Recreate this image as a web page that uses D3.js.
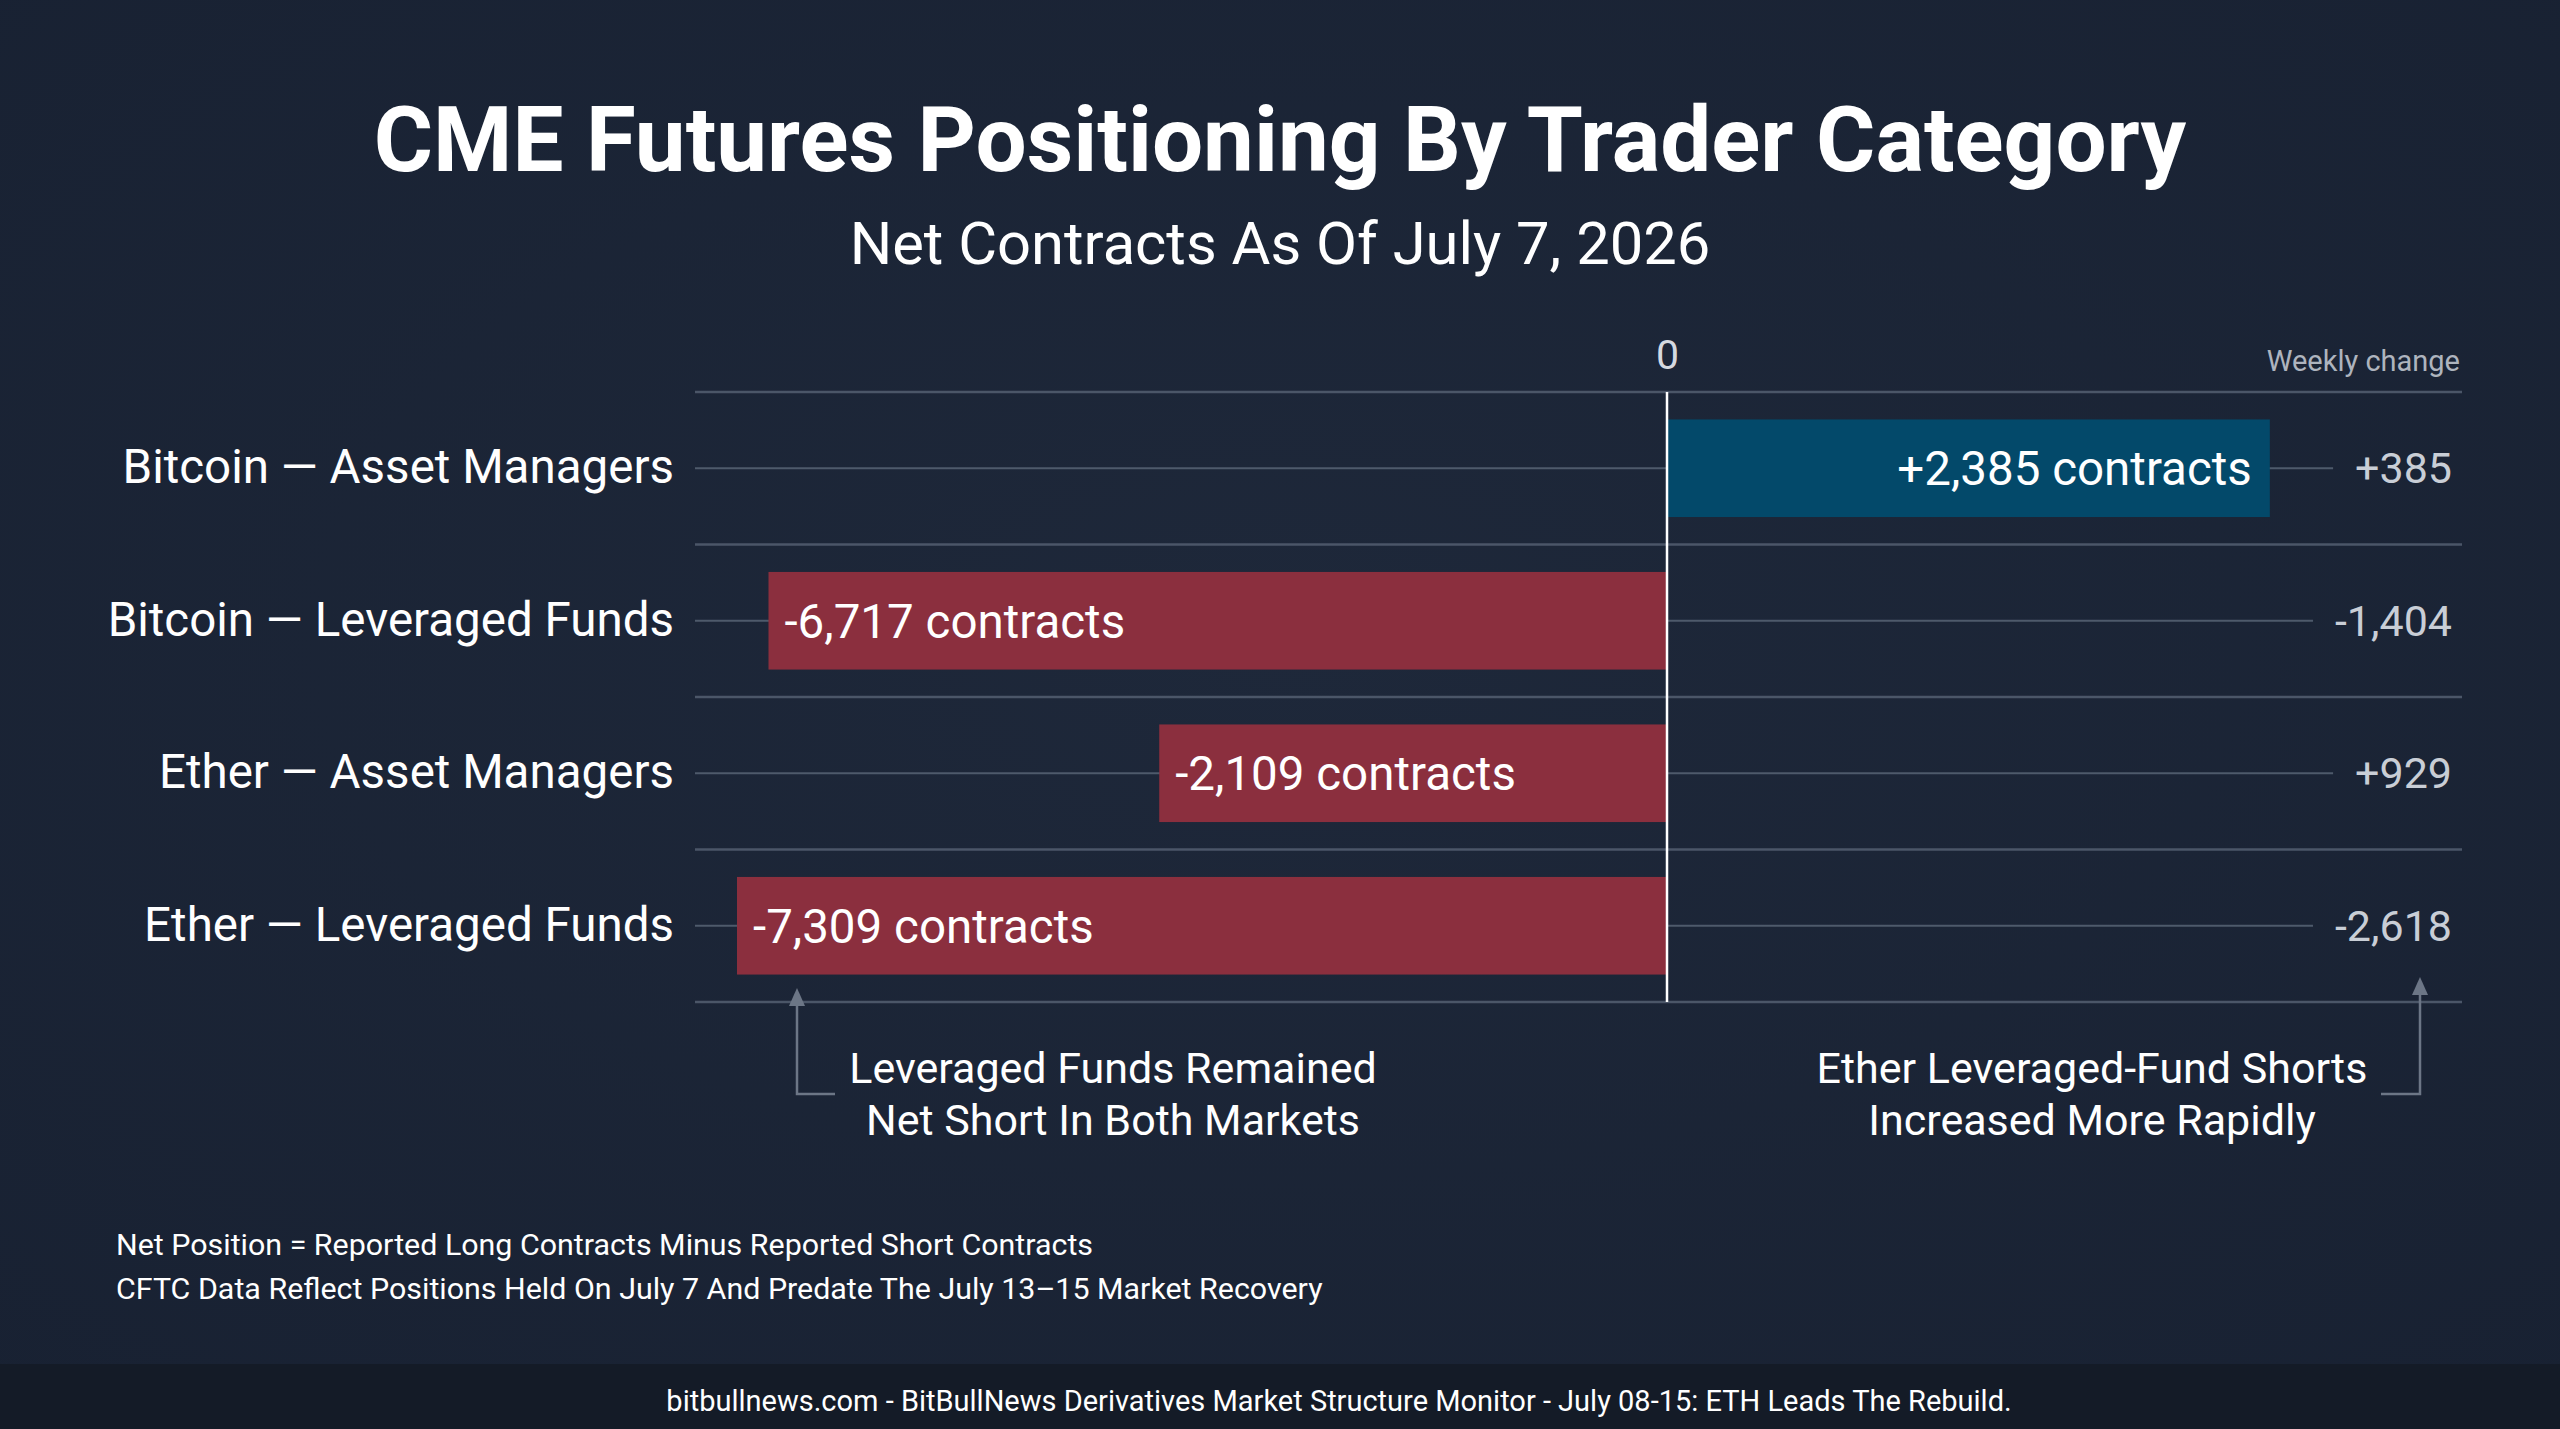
<!DOCTYPE html>
<html>
<head>
<meta charset="utf-8">
<script src="https://cdn.jsdelivr.net/npm/d3@7"></script>
<style>
  html, body { margin: 0; padding: 0; background: #1b2536; overflow: hidden; }
  svg { display: block; }
  text { font-family: Roboto, "Noto Sans", sans-serif; }
</style>
</head>
<body>
<svg id="chart" width="2560" height="1429"></svg>
<script>
// ---- Data ----
const categories = [
  "Bitcoin \u2014 Asset Managers",
  "Bitcoin \u2014 Leveraged Funds",
  "Ether \u2014 Asset Managers",
  "Ether \u2014 Leveraged Funds"
];
const netContracts = [2385, -6717, -2109, -7309];
const weeklyChange = [385, -1404, 929, -2618];
const zeroTick = [0];
const titleText = "CME Futures Positioning By Trader Category";
const subtitleText = "Net Contracts As Of July 7, 2026";
const weeklyHeader = "Weekly change";
const annotationLeft = ["Leveraged Funds Remained", "Net Short In Both Markets"];
const annotationRight = ["Ether Leveraged-Fund Shorts", "Increased More Rapidly"];
const footnotes = [
  "Net Position = Reported Long Contracts Minus Reported Short Contracts",
  "CFTC Data Reflect Positions Held On July 7 And Predate The July 13\u201315 Market Recovery"
];
const footerText = "bitbullnews.com - BitBullNews Derivatives Market Structure Monitor - July 08-15: ETH Leads The Rebuild.";

// ---- Layout ----
const W = 2560, H = 1429;
const plotLeft = 695, plotRight = 2462, zeroX = 1667;
const plotTop = 392, plotBottom = 1002;
const valueRight = 2452;

const svg = d3.select("#chart");
const defs = svg.append("defs");
const rg = defs.append("radialGradient").attr("id", "bg").attr("cx", "50%").attr("cy", "45%").attr("r", "75%");
rg.append("stop").attr("offset", "0%").attr("stop-color", "#1e283a");
rg.append("stop").attr("offset", "100%").attr("stop-color", "#182132");
svg.append("rect").attr("width", W).attr("height", H).attr("fill", "url(#bg)");
svg.append("rect").attr("x", 0).attr("y", 1364).attr("width", W).attr("height", H - 1364).attr("fill", "#141b27");

// Titles
svg.append("text").attr("x", W / 2).attr("y", 171).attr("text-anchor", "middle")
  .attr("font-size", 90.7).attr("font-weight", 700).attr("fill", "#ffffff").text(titleText);
svg.append("text").attr("x", W / 2).attr("y", 264).attr("text-anchor", "middle")
  .attr("font-size", 59.7).attr("fill", "#ffffff").text(subtitleText);

// Scales
const data = categories.map((c, i) => ({ cat: c, value: netContracts[i], change: weeklyChange[i] }));
const y = d3.scaleBand().domain(categories).range([plotTop, plotBottom]).paddingInner(0.36).paddingOuter(0.18);
const x = d3.scaleSymlog().constant(900).domain([-8000, 0, 4000]).range([703, zeroX, 2456]);

// Band separators
const step = y.step();
const seps = d3.range(categories.length + 1).map(i => plotTop + i * step);
svg.append("g").selectAll("line").data(seps).join("line")
  .attr("x1", plotLeft).attr("x2", plotRight).attr("y1", d => d).attr("y2", d => d)
  .attr("stroke", "#4b5668").attr("stroke-width", 2.5);

// Weekly change values (measure for row lines)
const fmtChange = v => (v > 0 ? "+" : v < 0 ? "-" : "") + d3.format(",")(Math.abs(v));
const valG = svg.append("g");
const vals = valG.selectAll("text").data(data).join("text")
  .attr("x", valueRight).attr("y", d => y(d.cat) + y.bandwidth() / 2 + 15)
  .attr("text-anchor", "end").attr("font-size", 43).attr("fill", "#c9ced6")
  .text(d => fmtChange(d.change));
const widths = [];
vals.each(function () { widths.push(this.getComputedTextLength()); });

// Row center lines
svg.append("g").selectAll("line").data(data).join("line")
  .attr("x1", plotLeft).attr("x2", (d, i) => valueRight - widths[i] - 22)
  .attr("y1", d => y(d.cat) + y.bandwidth() / 2).attr("y2", d => y(d.cat) + y.bandwidth() / 2)
  .attr("stroke", "#4e5a6b").attr("stroke-width", 2);

// Bars
svg.append("g").selectAll("rect").data(data).join("rect")
  .attr("x", d => Math.min(x(0), x(d.value)))
  .attr("width", d => Math.abs(x(d.value) - x(0)))
  .attr("y", d => y(d.cat)).attr("height", y.bandwidth())
  .attr("fill", d => d.value >= 0 ? "#03496a" : "#8b2f3e");

// Bar labels
svg.append("g").selectAll("text").data(data).join("text")
  .attr("x", d => d.value >= 0 ? x(d.value) - 18 : x(d.value) + 16)
  .attr("y", d => y(d.cat) + y.bandwidth() / 2 + 17)
  .attr("text-anchor", d => d.value >= 0 ? "end" : "start")
  .attr("font-size", 47.5).attr("fill", "#ffffff")
  .text(d => (d.value > 0 ? "+" : "-") + d3.format(",")(Math.abs(d.value)) + " contracts");

// Zero line
svg.append("line").attr("x1", x(0)).attr("x2", x(0)).attr("y1", plotTop).attr("y2", plotBottom)
  .attr("stroke", "#ffffff").attr("stroke-width", 2.5);

// Top axis with 0 tick
const xAxis = svg.append("g").attr("transform", `translate(0,${plotTop})`)
  .call(d3.axisTop(x).tickValues(zeroTick).tickSize(0).tickPadding(23).tickFormat(d3.format("d")));
xAxis.select(".domain").remove();
xAxis.selectAll("text").attr("font-size", 41).attr("fill", "#d5d9e0").attr("font-family", "Roboto");

// Left axis with category labels
const yAxis = svg.append("g").attr("transform", `translate(${plotLeft},0)`)
  .call(d3.axisLeft(y).tickSize(0).tickPadding(21));
yAxis.select(".domain").remove();
yAxis.selectAll("text").attr("font-size", 47.5).attr("fill", "#ffffff").attr("font-family", "Roboto");

// Weekly change header
svg.append("text").attr("x", 2460).attr("y", 371).attr("text-anchor", "end")
  .attr("font-size", 29).attr("fill", "#aeb4be").text(weeklyHeader);

// Annotations
const annColor = "#6c7686";
const ann = svg.append("g");
function arrowUp(xp, tipY) {
  ann.append("path").attr("d", `M${xp},${tipY} L${xp - 8},${tipY + 18} L${xp + 8},${tipY + 18} Z`).attr("fill", annColor);
}
ann.append("path").attr("d", "M835,1094 L797,1094 L797,1000").attr("fill", "none").attr("stroke", annColor).attr("stroke-width", 2.5);
arrowUp(797, 988);
ann.append("path").attr("d", "M2381,1094 L2420,1094 L2420,990").attr("fill", "none").attr("stroke", annColor).attr("stroke-width", 2.5);
arrowUp(2420, 977);

svg.append("g").selectAll("text").data(annotationLeft).join("text")
  .attr("x", 1113).attr("y", (d, i) => 1083 + i * 52).attr("text-anchor", "middle")
  .attr("font-size", 43).attr("fill", "#ffffff").text(d => d);
svg.append("g").selectAll("text").data(annotationRight).join("text")
  .attr("x", 2092).attr("y", (d, i) => 1083 + i * 52).attr("text-anchor", "middle")
  .attr("font-size", 43).attr("fill", "#ffffff").text(d => d);

// Footnotes
svg.append("g").selectAll("text").data(footnotes).join("text")
  .attr("x", 116).attr("y", (d, i) => 1255 + i * 44)
  .attr("font-size", 30.4).attr("fill", "#ffffff").text(d => d);

// Footer
svg.append("text").attr("x", 1339).attr("y", 1411).attr("text-anchor", "middle")
  .attr("font-size", 29).attr("fill", "#ffffff").text(footerText);
</script>
</body>
</html>
